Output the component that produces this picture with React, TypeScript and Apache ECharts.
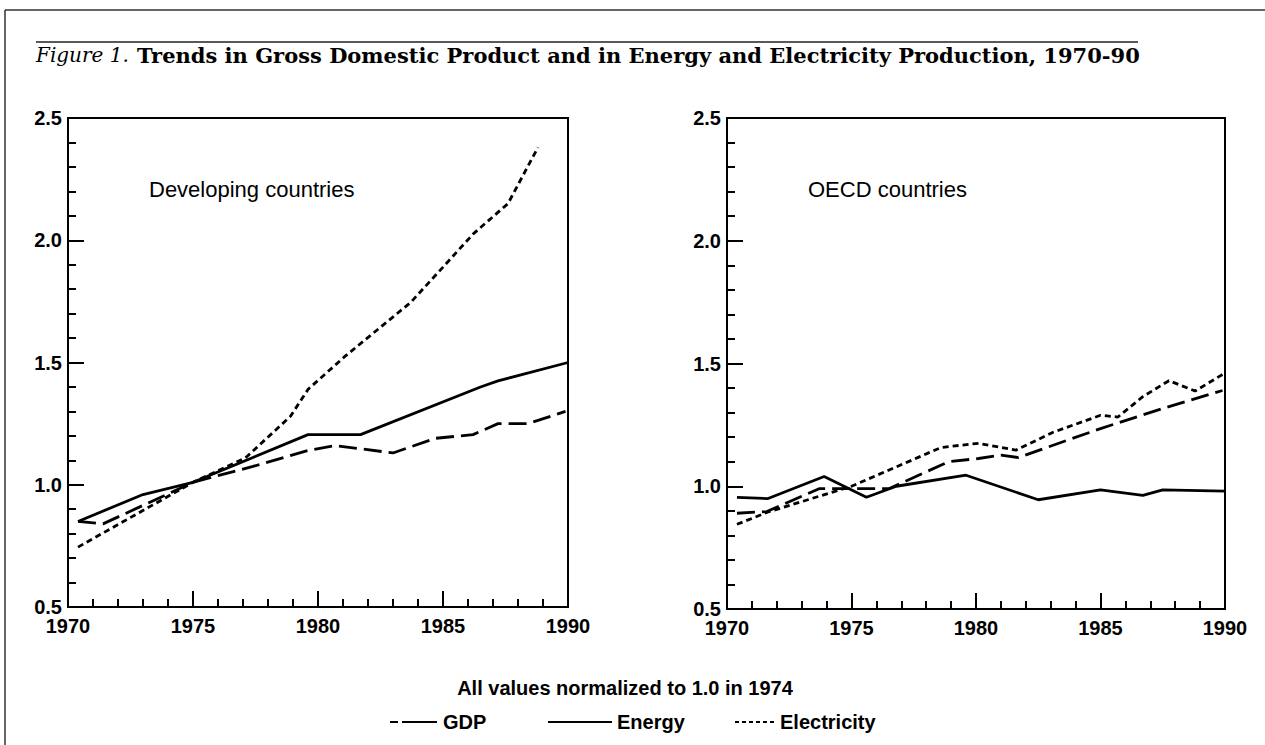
import React, { useEffect, useRef } from "react";
import * as echarts from "echarts";

// ---- Data (year, index value; 1974 = 1.0) ----
const devGDP: [number, number][] = [
  [1970.4, 0.85], [1971.4, 0.84], [1975.0, 1.01], [1977.4, 1.075], [1979.6, 1.14],
  [1980.7, 1.16], [1983.0, 1.13], [1984.7, 1.19], [1986.2, 1.205], [1987.2, 1.25],
  [1988.4, 1.25], [1989.9, 1.3],
];
const devEnergy: [number, number][] = [
  [1970.4, 0.85], [1973.0, 0.96], [1975.0, 1.01], [1979.6, 1.205], [1981.7, 1.205],
  [1986.5, 1.4], [1987.2, 1.425], [1990.0, 1.5],
];
const devElectricity: [number, number][] = [
  [1970.4, 0.745], [1975.0, 1.01], [1977.1, 1.11], [1978.9, 1.28], [1979.6, 1.39],
  [1981.1, 1.527], [1983.7, 1.745], [1985.0, 1.89], [1986.2, 2.025], [1987.6, 2.15],
  [1988.8, 2.38],
];
const oecdGDP: [number, number][] = [
  [1970.4, 0.89], [1971.6, 0.897], [1973.7, 0.99], [1976.5, 0.99], [1978.9, 1.1],
  [1980.1, 1.113], [1981.0, 1.127], [1981.7, 1.117], [1985.0, 1.235], [1987.6, 1.32],
  [1989.9, 1.39],
];
const oecdEnergy: [number, number][] = [
  [1970.4, 0.955], [1971.65, 0.95], [1973.9, 1.04], [1975.6, 0.955], [1976.8, 1.0],
  [1979.6, 1.045], [1982.5, 0.945], [1985.0, 0.985], [1986.7, 0.963], [1987.5, 0.985],
  [1990.0, 0.98],
];
const oecdElectricity: [number, number][] = [
  [1970.4, 0.845], [1971.65, 0.895], [1975.0, 1.0], [1978.6, 1.158], [1980.1, 1.175],
  [1981.6, 1.147], [1983.1, 1.22], [1985.0, 1.289], [1985.7, 1.282], [1986.7, 1.365],
  [1987.75, 1.43], [1988.8, 1.388], [1989.9, 1.455],
];

const panelTitles = ["Developing countries", "OECD countries"];
const seriesNames = ["GDP", "Energy", "Electricity"];
const titleItalic = "Figure 1.";
const titleBold =
  "Trends in Gross Domestic Product and in Energy and Electricity Production, 1970-90";
const noteText = "All values normalized to 1.0 in 1974";
const xMin = 1970, xMax = 1990, xStep = 5;
const yMin = 0.5, yMax = 2.5, yStep = 0.5;

const SANS = "'Liberation Sans', Arial, Helvetica, sans-serif";
const SERIF = "'DejaVu Serif', 'Liberation Serif', serif";

const dashGDP = [18, 7];
const dashElec = [6, 4];

export default function App() {
  const ref = useRef<HTMLDivElement>(null);
  useEffect(() => {
    if (!ref.current) return;
    const chart = echarts.init(ref.current, undefined, { renderer: "svg" });
    const axisBase = {
      axisLine: { show: true, onZero: false, lineStyle: { color: "#000", width: 2 } },
      axisTick: { show: true, inside: true, length: 16, lineStyle: { color: "#000", width: 2 } },
      minorTick: { show: true, splitNumber: 5, length: 8, lineStyle: { color: "#000", width: 2 } },
      splitLine: { show: false },
      minorSplitLine: { show: false },
    };
    const xAxes = [0, 1].map((i) => ({
      ...axisBase,
      type: "value",
      gridIndex: i,
      min: xMin,
      max: xMax,
      interval: xStep,
      axisLabel: {
        color: "#000", fontFamily: SANS, fontSize: 20, fontWeight: "bold", margin: 9,
        formatter: (v: number) => String(v),
      },
    }));
    const yAxes = [0, 1].map((i) => ({
      ...axisBase,
      type: "value",
      gridIndex: i,
      min: yMin,
      max: yMax,
      interval: yStep,
      axisLabel: {
        color: "#000", fontFamily: SANS, fontSize: 20, fontWeight: "bold", margin: 6,
        formatter: (v: number) => v.toFixed(1),
      },
    }));
    const mk = (name: string, data: [number, number][], idx: number, type: any) => ({
      name,
      type: "line",
      xAxisIndex: idx,
      yAxisIndex: idx,
      data,
      showSymbol: false,
      symbol: "none",
      lineStyle: { color: "#000", width: 2.8, type },
      z: 3,
    });
    const series = [
      mk(seriesNames[0], devGDP, 0, dashGDP),
      mk(seriesNames[1], devEnergy, 0, "solid"),
      mk(seriesNames[2], devElectricity, 0, dashElec),
      mk(seriesNames[0], oecdGDP, 1, dashGDP),
      mk(seriesNames[1], oecdEnergy, 1, "solid"),
      mk(seriesNames[2], oecdElectricity, 1, dashElec),
    ];
    const legendY = 722;
    const legendItems = [
      { x1: 390, x2: 437, tx: 443, dash: [8, 4, 28, 0], name: seriesNames[0] },
      { x1: 548, x2: 612, tx: 617, dash: null, name: seriesNames[1] },
      { x1: 735, x2: 776, tx: 780, dash: [4, 3], name: seriesNames[2] },
    ];
    const graphic: any[] = [
      // outer frame
      { type: "line", shape: { x1: 5, y1: 10, x2: 1265, y2: 10 }, style: { stroke: "#333", lineWidth: 1.5 } },
      { type: "line", shape: { x1: 5, y1: 10, x2: 5, y2: 745 }, style: { stroke: "#333", lineWidth: 1.5 } },
      // title rule
      { type: "line", shape: { x1: 36, y1: 42, x2: 1138, y2: 42 }, style: { stroke: "#222", lineWidth: 1.5 } },
      {
        type: "text", x: 36, y: 55,
        style: { text: titleItalic, font: `italic 20px ${SERIF}`, fill: "#000", textVerticalAlign: "middle" },
      },
      {
        type: "text", x: 137, y: 55,
        style: { text: titleBold, font: `bold 21px ${SERIF}`, fill: "#000", textVerticalAlign: "middle" },
      },
      // panel titles
      {
        type: "text", x: 149, y: 189,
        style: { text: panelTitles[0], font: `22px ${SANS}`, fill: "#000", textVerticalAlign: "middle" },
      },
      {
        type: "text", x: 808, y: 189,
        style: { text: panelTitles[1], font: `22px ${SANS}`, fill: "#000", textVerticalAlign: "middle" },
      },
      // note
      {
        type: "text", x: 625, y: 688,
        style: { text: noteText, font: `bold 20px ${SANS}`, fill: "#000", textAlign: "center", textVerticalAlign: "middle" },
      },
    ];
    legendItems.forEach((it) => {
      graphic.push({
        type: "line",
        shape: { x1: it.x1, y1: legendY, x2: it.x2, y2: legendY },
        style: { stroke: "#000", lineWidth: 2, lineDash: it.dash || undefined },
      });
      graphic.push({
        type: "text", x: it.tx, y: legendY,
        style: { text: it.name, font: `bold 20px ${SANS}`, fill: "#000", textVerticalAlign: "middle" },
      });
    });

    chart.setOption({
      animation: false,
      backgroundColor: "#fff",
      grid: [
        { left: 68, top: 118, width: 500, height: 489, show: true, borderColor: "#000", borderWidth: 2, backgroundColor: "transparent" },
        { left: 727, top: 118, width: 498, height: 491, show: true, borderColor: "#000", borderWidth: 2, backgroundColor: "transparent" },
      ],
      xAxis: xAxes,
      yAxis: yAxes,
      series,
      graphic,
    } as any);
    return () => chart.dispose();
  }, []);
  return (
    <div
      ref={ref}
      style={{ position: "fixed", left: 0, top: 0, width: 1265, height: 745, background: "#fff" }}
    />
  );
}
